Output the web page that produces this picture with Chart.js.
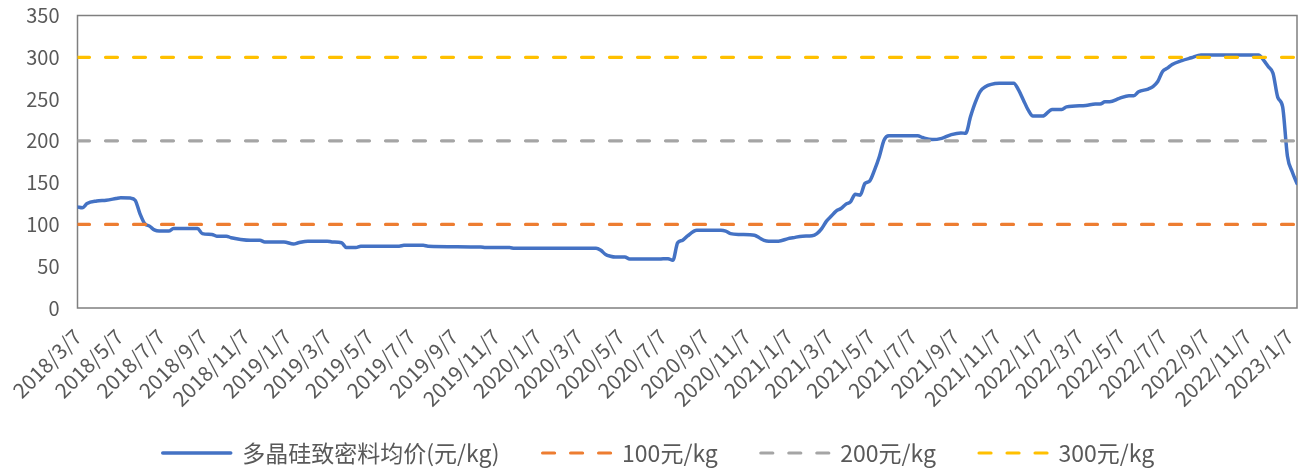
<!DOCTYPE html>
<html>
<head>
<meta charset="utf-8">
<script src="https://cdn.jsdelivr.net/npm/chart.js@4.4.1/dist/chart.umd.min.js"></script>
<style>
  html, body { margin: 0; padding: 0; background: #ffffff; }
  #c { display: block; }
</style>
</head>
<body>
<canvas id="c" width="1298" height="471"></canvas>
<script>
// Weekly polysilicon dense-material average price (元/kg)
const priceDates = [
  '2018/3/7','2018/3/14','2018/3/21','2018/4/4','2018/4/18','2018/5/2','2018/5/9','2018/5/23','2018/5/30',
  '2018/6/6','2018/6/13','2018/6/20','2018/6/27','2018/7/4','2018/7/18','2018/7/25','2018/8/29','2018/9/5',
  '2018/9/19','2018/9/26','2018/10/10','2018/10/17','2018/10/31','2018/11/14','2018/11/28','2018/12/5',
  '2019/1/2','2019/1/16','2019/1/23','2019/2/6','2019/3/6','2019/3/13','2019/3/27','2019/4/3','2019/4/17',
  '2019/4/24','2019/6/19','2019/6/26','2019/7/24','2019/7/31','2019/10/16','2019/10/23','2019/11/27',
  '2019/12/4','2020/4/1','2020/4/8','2020/4/15','2020/4/22','2020/4/29','2020/5/13','2020/5/20','2020/7/1',
  '2020/7/8','2020/7/15','2020/7/22','2020/7/29','2020/8/5','2020/8/12','2020/8/26','2020/9/30','2020/10/7',
  '2020/10/14','2020/10/28','2020/11/18','2020/11/25','2020/12/2','2020/12/9','2020/12/23','2021/1/6',
  '2021/1/13','2021/1/27','2021/2/10','2021/2/17','2021/2/24','2021/3/3','2021/3/10','2021/3/17','2021/3/24',
  '2021/3/31','2021/4/7','2021/4/14','2021/4/21','2021/4/28','2021/5/5','2021/5/12','2021/5/19','2021/5/26',
  '2021/6/2','2021/7/14','2021/7/21','2021/8/4','2021/8/18','2021/9/1','2021/9/15','2021/9/22','2021/9/29',
  '2021/10/6','2021/10/13','2021/10/20','2021/11/10','2021/12/1','2021/12/8','2021/12/15','2021/12/22',
  '2021/12/29','2022/1/12','2022/1/26','2022/2/9','2022/2/16','2022/3/16','2022/3/30','2022/4/6','2022/4/13',
  '2022/4/20','2022/5/4','2022/5/18','2022/5/25','2022/6/1','2022/6/15','2022/6/22','2022/6/29','2022/7/6',
  '2022/7/13','2022/7/20','2022/8/3','2022/8/17','2022/8/31','2022/11/23','2022/11/30','2022/12/7',
  '2022/12/14','2022/12/21','2022/12/28','2023/1/4','2023/1/11','2023/1/18'
];
const priceValues = [
  121,120,125,128,129,131,132,131.5,129,
  113,101,98,93.5,92,92,95,95,89,
  88,86,86,84,82,81,81,79,
  79,76.5,78,80,80,79,78,72.5,72.5,
  74,74,75,75,74,73,72.3,72.3,
  71.5,71.5,69,64,62,61,61,58.5,58.5,
  59,59,57,78,81,86,93,93,92,
  89,88,87,84,81,80,80,83,
  84,86,86.5,89,95,104,110,116,119,
  124,127,136,135,149,152,165,181,201,
  206,206,204,201.5,203,207.5,209.5,209,229,
  246,259,264.5,268.8,269,261,249,237,
  229.6,229.6,237.6,237.6,240.7,242.4,244,244,246.7,
  246.7,250.8,254,254,258.7,262,265,271,283,
  287,291.5,296,299.4,302.7,302.7,297,289,
  281,252,241,182,163,149
];

// Reference price levels (元/kg)
const refLevels = [100, 200, 300];
const seriesNames = ['多晶硅致密料均价(元/kg)', '100元/kg', '200元/kg', '300元/kg'];
const seriesColors = ['#4472C4', '#ED7D31', '#A5A5A5', '#FFC000'];

// Axis labels
const tickDates = [
  '2018/3/7','2018/5/7','2018/7/7','2018/9/7','2018/11/7',
  '2019/1/7','2019/3/7','2019/5/7','2019/7/7','2019/9/7','2019/11/7',
  '2020/1/7','2020/3/7','2020/5/7','2020/7/7','2020/9/7','2020/11/7',
  '2021/1/7','2021/3/7','2021/5/7','2021/7/7','2021/9/7','2021/11/7',
  '2022/1/7','2022/3/7','2022/5/7','2022/7/7','2022/9/7','2022/11/7',
  '2023/1/7'
];
const yTicks = [0, 50, 100, 150, 200, 250, 300, 350];

function toUTC(s) {
  const [y, m, d] = s.split('/').map(Number);
  return Date.UTC(y, m - 1, d);
}
const originDate = priceDates[0];
const lastDate = priceDates[priceDates.length - 1];
function dayIndex(s) {
  return Math.round((toUTC(s) - toUTC(originDate)) / 86400000);
}
const xMin = 0;
const xMax = dayIndex(lastDate);

const priceSeries = priceDates.map((d, i) => ({ x: dayIndex(d), y: priceValues[i] }));

const FONT = '"Noto Sans CJK SC", "Noto Sans", sans-serif';
const TEXT = '#595959';

const dashed = (level, i) => ({
  label: seriesNames[i + 1],
  data: [{ x: xMin, y: level }, { x: xMax, y: level }],
  borderColor: seriesColors[i + 1],
  backgroundColor: seriesColors[i + 1],
  borderWidth: 3.2,
  borderDash: [12, 16],
  borderCapStyle: 'round',
  pointRadius: 0,
  order: 0
});

// Grey frame around the plotting area
const frame = {
  id: 'frame',
  beforeDatasetsDraw(chart) {
    const { ctx, chartArea: a } = chart;
    ctx.save();
    ctx.strokeStyle = '#7F7F7F';
    ctx.lineWidth = 1.5;
    ctx.strokeRect(a.left, a.top, a.right - a.left, a.bottom - a.top);
    ctx.restore();
  }
};

// Legend samples use each series' own stroke (width, dash, caps)
function legendItems(chart) {
  const items = Chart.defaults.plugins.legend.labels.generateLabels(chart);
  items.forEach(it => {
    const ds = chart.data.datasets[it.datasetIndex];
    it.strokeStyle = ds.borderColor;
    it.lineWidth = ds.borderWidth;
    it.lineDash = ds.borderDash || [];
    it.lineCap = ds.borderCapStyle || 'butt';
    it.pointStyle = 'line';
  });
  return items;
}

new Chart(document.getElementById('c'), {
  type: 'line',
  data: {
    datasets: [
      {
        label: seriesNames[0],
        data: priceSeries,
        borderColor: seriesColors[0],
        backgroundColor: seriesColors[0],
        borderWidth: 3.5,
        pointRadius: 0,
        cubicInterpolationMode: 'monotone',
        borderCapStyle: 'round',
        borderJoinStyle: 'round',
        order: 1
      },
      ...refLevels.map(dashed)
    ]
  },
  options: {
    responsive: false,
    animation: false,
    devicePixelRatio: 1,
    layout: { padding: { left: 20, right: 1, top: 15.5, bottom: 0 } },
    plugins: {
      tooltip: { enabled: false },
      legend: {
        position: 'bottom',
        maxHeight: 72.5,
        labels: {
          usePointStyle: true,
          pointStyle: 'line',
          pointStyleWidth: 68,
          padding: 43,
          color: TEXT,
          font: { family: FONT, size: 23 },
          generateLabels: legendItems,
          sort: (a, b) => a.datasetIndex - b.datasetIndex
        }
      }
    },
    scales: {
      x: {
        type: 'linear',
        min: xMin,
        max: xMax,
        grid: { display: false, drawTicks: false },
        border: { display: false },
        afterBuildTicks(scale) {
          scale.ticks = tickDates.map(d => ({ value: dayIndex(d) }));
        },
        afterFit(scale) {
          scale.height = 90.5;
          scale.paddingLeft = 0;
          scale.paddingRight = 0;
          // let the rotated labels run below the axis box
          scale._computeLabelArea = () => undefined;
        },
        ticks: {
          autoSkip: false,
          minRotation: 45,
          maxRotation: 45,
          padding: 16,
          color: TEXT,
          font: { family: FONT, size: 21 },
          callback: (v, i) => tickDates[i]
        }
      },
      y: {
        type: 'linear',
        min: 0,
        max: 350,
        grid: { display: false, drawTicks: false },
        border: { display: false },
        afterBuildTicks(scale) {
          scale.ticks = yTicks.map(v => ({ value: v }));
        },
        afterFit(scale) {
          scale.width = 57.5;
          scale.paddingTop = 0;
          scale.paddingBottom = 0;
        },
        ticks: {
          padding: 18,
          color: TEXT,
          font: { family: FONT, size: 20 }
        }
      }
    }
  },
  plugins: [frame]
});
</script>
</body>
</html>
